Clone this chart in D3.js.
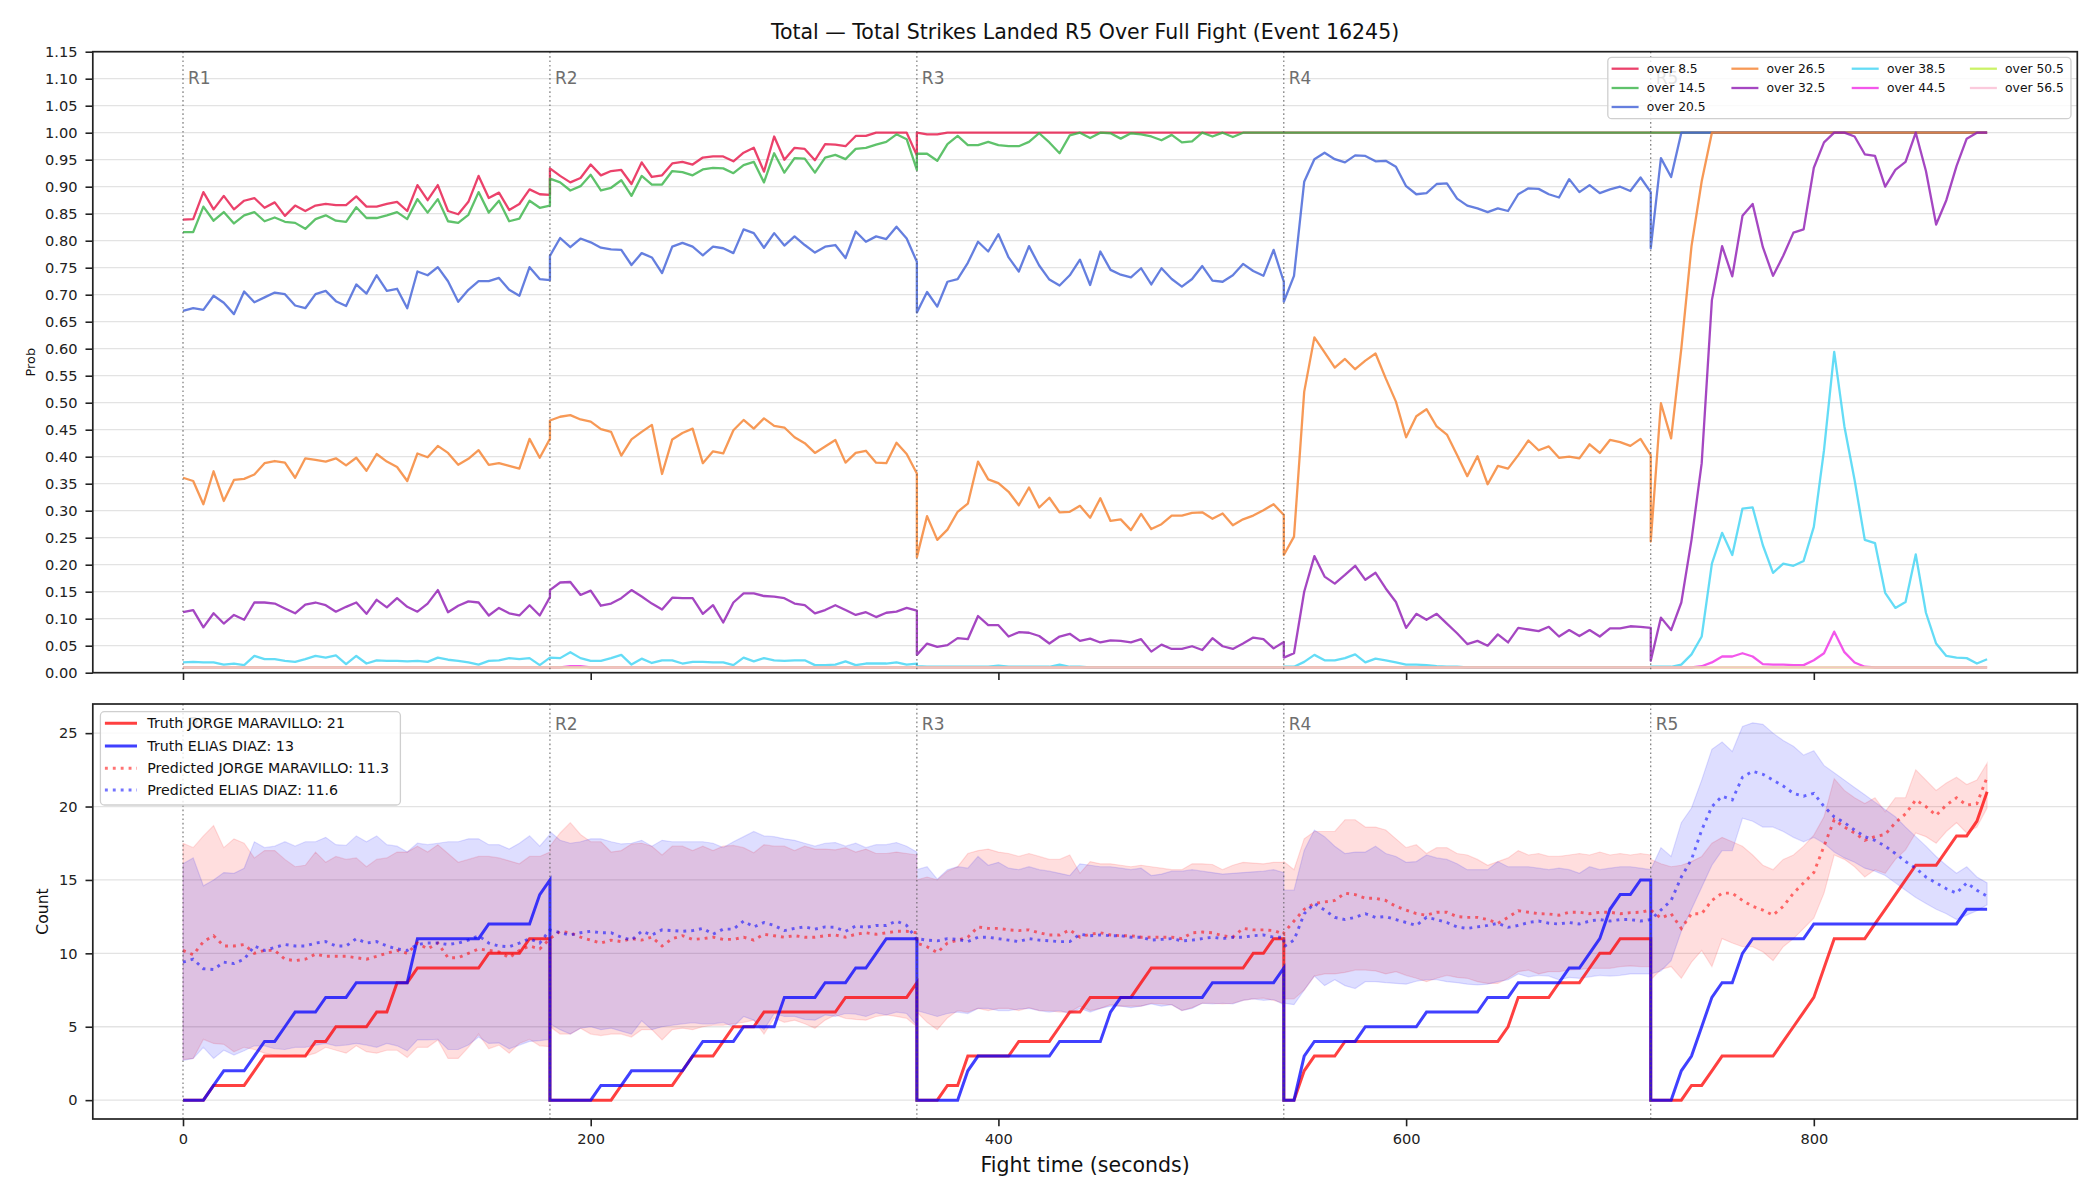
<!DOCTYPE html>
<html><head><meta charset="utf-8">
<script src="https://cdn.jsdelivr.net/npm/d3@7"></script>
<style>
body{margin:0;background:#fff;}
svg{display:block;font-family:"DejaVu Sans",sans-serif;}
</style></head><body>
<svg id="chart" width="2100" height="1200"></svg>
<script>
// ---------------- DATA ----------------
const titleText = "Total \u2014 Total Strikes Landed R5 Over Full Fight (Event 16245)";
const roundStarts = [0,180,360,540,720];
const roundLabels = ["R1","R2","R3","R4","R5"];
const stepSec = 5;
const xTicks = [0,200,400,600,800];
const probTicks = [0.00,0.05,0.10,0.15,0.20,0.25,0.30,0.35,0.40,0.45,0.50,0.55,0.60,0.65,0.70,0.75,0.80,0.85,0.90,0.95,1.00,1.05,1.10,1.15];
const countTicks = [0,5,10,15,20,25];
const thresholdLabels = ["over 8.5","over 14.5","over 20.5","over 26.5","over 32.5","over 38.5","over 44.5","over 50.5","over 56.5"];
const thresholdColors = ["#e6194B","#3cb44b","#4363d8","#f58231","#911eb4","#42d4f4","#f032e6","#bfef45","#fabed4"];

const over8_5 = [
[0.839,0.840,0.890,0.858,0.883,0.858,0.874,0.879,0.861,0.871,0.846,0.865,0.855,0.865,0.868,0.866,0.866,0.882,0.863,0.863,0.868,0.872,0.855,0.903,0.875,0.903,0.855,0.849,0.872,0.920,0.879,0.889,0.857,0.868,0.895,0.886,0.885],
[0.934,0.920,0.908,0.916,0.941,0.921,0.929,0.931,0.905,0.945,0.918,0.921,0.943,0.946,0.941,0.954,0.956,0.956,0.947,0.963,0.972,0.928,0.993,0.950,0.972,0.970,0.949,0.979,0.978,0.975,0.994,0.994,1,1,1,1,0.958],
[1,0.997,0.997,1,1,1,1,1,1,1,1,1,1,1,1,1,1,1,1,1,1,1,1,1,1,1,1,1,1,1,1,1,1,1,1,1,1],
[1,1,1,1,1,1,1,1,1,1,1,1,1,1,1,1,1,1,1,1,1,1,1,1,1,1,1,1,1,1,1,1,1,1,1,1,1],
[1,1,1,1,1,1,1,1,1,1,1,1,1,1,1,1,1,1,1,1,1,1,1,1,1,1,1,1,1,1,1,1,1,1]
];
const over14_5 = [
[0.816,0.816,0.863,0.837,0.853,0.832,0.847,0.853,0.836,0.843,0.835,0.833,0.822,0.840,0.847,0.837,0.835,0.862,0.842,0.842,0.847,0.853,0.840,0.877,0.852,0.877,0.836,0.833,0.848,0.890,0.852,0.874,0.836,0.841,0.874,0.861,0.865],
[0.915,0.908,0.893,0.901,0.922,0.893,0.898,0.912,0.883,0.920,0.904,0.904,0.929,0.927,0.921,0.932,0.935,0.934,0.925,0.940,0.946,0.908,0.962,0.926,0.953,0.952,0.926,0.954,0.959,0.951,0.970,0.972,0.978,0.983,0.997,0.988,0.931],
[0.961,0.961,0.948,0.979,0.994,0.977,0.977,0.983,0.977,0.975,0.975,0.983,0.999,0.982,0.962,0.995,1,0.990,1,0.999,0.989,0.999,0.997,0.993,0.986,0.996,0.982,0.984,1,0.993,1,0.992,1,1,1,1,1],
[1,1,1,1,1,1,1,1,1,1,1,1,1,1,1,1,1,1,1,1,1,1,1,1,1,1,1,1,1,1,1,1,1,1,1,1,1],
[1,1,1,1,1,1,1,1,1,1,1,1,1,1,1,1,1,1,1,1,1,1,1,1,1,1,1,1,1,1,1,1,1,1]
];
const over20_5 = [
[0.670,0.675,0.672,0.698,0.685,0.664,0.706,0.686,0.695,0.704,0.701,0.680,0.675,0.701,0.707,0.688,0.679,0.719,0.702,0.736,0.707,0.711,0.675,0.743,0.736,0.751,0.725,0.687,0.709,0.725,0.725,0.731,0.709,0.698,0.751,0.729,0.727],
[0.772,0.805,0.788,0.804,0.797,0.787,0.784,0.783,0.755,0.777,0.769,0.740,0.789,0.796,0.789,0.773,0.789,0.786,0.777,0.821,0.814,0.787,0.814,0.791,0.808,0.792,0.778,0.789,0.792,0.768,0.817,0.798,0.808,0.803,0.826,0.804,0.761],
[0.667,0.705,0.678,0.724,0.729,0.759,0.798,0.780,0.812,0.769,0.743,0.790,0.754,0.728,0.717,0.736,0.765,0.718,0.780,0.746,0.737,0.732,0.749,0.719,0.749,0.729,0.715,0.729,0.753,0.726,0.724,0.736,0.757,0.744,0.735,0.783,0.724],
[0.687,0.735,0.909,0.951,0.963,0.951,0.945,0.958,0.957,0.947,0.948,0.937,0.901,0.886,0.888,0.905,0.906,0.878,0.865,0.860,0.853,0.860,0.855,0.886,0.897,0.896,0.886,0.880,0.914,0.890,0.903,0.888,0.895,0.900,0.892,0.917,0.890],
[0.786,0.953,0.918,1,1,1,1,1,1,1,1,1,1,1,1,1,1,1,1,1,1,1,1,1,1,1,1,1,1,1,1,1,1,1]
];
const over26_5 = [
[0.361,0.355,0.312,0.373,0.318,0.357,0.359,0.367,0.388,0.392,0.389,0.361,0.397,0.394,0.391,0.397,0.384,0.398,0.374,0.405,0.391,0.381,0.355,0.406,0.399,0.420,0.407,0.385,0.396,0.412,0.385,0.388,0.383,0.378,0.433,0.398,0.433],
[0.467,0.474,0.477,0.469,0.465,0.451,0.446,0.402,0.432,0.446,0.459,0.368,0.432,0.444,0.452,0.388,0.410,0.406,0.449,0.468,0.452,0.471,0.457,0.454,0.436,0.425,0.407,0.419,0.431,0.389,0.407,0.411,0.389,0.388,0.426,0.405,0.369],
[0.214,0.290,0.246,0.265,0.298,0.313,0.391,0.358,0.351,0.335,0.310,0.343,0.306,0.324,0.297,0.298,0.309,0.287,0.323,0.281,0.284,0.264,0.294,0.266,0.275,0.291,0.291,0.296,0.297,0.285,0.295,0.273,0.284,0.291,0.301,0.312,0.292],
[0.218,0.252,0.520,0.621,0.593,0.565,0.581,0.562,0.578,0.591,0.545,0.502,0.436,0.475,0.488,0.456,0.441,0.403,0.364,0.401,0.349,0.383,0.378,0.403,0.430,0.412,0.419,0.398,0.400,0.397,0.423,0.407,0.431,0.427,0.420,0.433,0.403],
[0.243,0.499,0.434,0.600,0.790,0.910,1,1,1,1,1,1,1,1,1,1,1,1,1,1,1,1,1,1,1,1,1,1,1,1,1,1,1,1]
];
const over32_5 = [
[0.112,0.116,0.084,0.110,0.091,0.107,0.098,0.130,0.130,0.128,0.119,0.110,0.126,0.130,0.125,0.113,0.122,0.130,0.109,0.135,0.121,0.138,0.122,0.113,0.128,0.153,0.112,0.124,0.132,0.130,0.106,0.120,0.110,0.106,0.125,0.106,0.140],
[0.153,0.167,0.168,0.144,0.152,0.124,0.128,0.138,0.153,0.141,0.128,0.117,0.139,0.138,0.138,0.109,0.125,0.093,0.130,0.147,0.147,0.142,0.141,0.138,0.128,0.125,0.110,0.116,0.125,0.116,0.107,0.112,0.103,0.111,0.113,0.120,0.115],
[0.033,0.054,0.048,0.051,0.064,0.062,0.105,0.088,0.088,0.067,0.075,0.074,0.068,0.054,0.067,0.072,0.059,0.063,0.056,0.060,0.059,0.056,0.062,0.039,0.052,0.044,0.044,0.049,0.042,0.064,0.049,0.044,0.054,0.065,0.062,0.045,0.057],
[0.028,0.036,0.150,0.216,0.178,0.165,0.181,0.198,0.172,0.185,0.156,0.131,0.083,0.109,0.098,0.109,0.091,0.073,0.053,0.059,0.050,0.071,0.056,0.083,0.080,0.077,0.085,0.067,0.079,0.068,0.079,0.067,0.082,0.082,0.086,0.085,0.083],
[0.022,0.102,0.079,0.130,0.246,0.388,0.690,0.790,0.734,0.846,0.868,0.788,0.735,0.772,0.815,0.821,0.935,0.982,1,1,0.993,0.960,0.957,0.900,0.931,0.946,1,0.929,0.830,0.875,0.938,0.989,1,1]
];
const over38_5 = [
[0.019,0.020,0.019,0.019,0.015,0.017,0.014,0.031,0.025,0.025,0.022,0.020,0.025,0.031,0.028,0.032,0.016,0.031,0.017,0.023,0.022,0.022,0.021,0.022,0.020,0.028,0.024,0.022,0.019,0.015,0.022,0.023,0.027,0.025,0.027,0.014,0.028],
[0.028,0.027,0.038,0.027,0.022,0.022,0.027,0.033,0.015,0.026,0.018,0.023,0.023,0.017,0.020,0.020,0.019,0.019,0.014,0.028,0.021,0.027,0.023,0.022,0.023,0.023,0.014,0.014,0.015,0.021,0.014,0.017,0.017,0.017,0.019,0.015,0.017],
[0.012,0.011,0.011,0.011,0.011,0.011,0.011,0.011,0.013,0.011,0.011,0.011,0.011,0.011,0.015,0.011,0.011,0.010,0.010,0.010,0.010,0.010,0.010,0.010,0.010,0.010,0.010,0.010,0.010,0.010,0.010,0.010,0.010,0.010,0.010,0.010,0.010],
[0.011,0.011,0.020,0.033,0.023,0.023,0.027,0.034,0.019,0.026,0.023,0.019,0.015,0.015,0.014,0.012,0.011,0.011,0.010,0.010,0.010,0.010,0.010,0.010,0.010,0.010,0.010,0.010,0.010,0.010,0.010,0.010,0.010,0.010,0.010,0.010,0.010],
[0.011,0.011,0.011,0.015,0.034,0.067,0.202,0.259,0.218,0.304,0.306,0.236,0.185,0.202,0.198,0.207,0.270,0.412,0.594,0.456,0.357,0.246,0.240,0.148,0.120,0.131,0.219,0.111,0.054,0.031,0.028,0.027,0.017,0.025]
];
const over44_5 = [
[0.010,0.010,0.010,0.010,0.010,0.010,0.010,0.010,0.010,0.010,0.010,0.010,0.010,0.010,0.010,0.010,0.010,0.010,0.010,0.010,0.010,0.010,0.010,0.010,0.010,0.010,0.010,0.010,0.010,0.010,0.010,0.010,0.010,0.010,0.010,0.010,0.010],
[0.010,0.010,0.012,0.012,0.010,0.010,0.010,0.010,0.010,0.010,0.010,0.010,0.010,0.010,0.010,0.010,0.010,0.010,0.010,0.010,0.010,0.010,0.010,0.010,0.010,0.010,0.010,0.010,0.010,0.010,0.010,0.010,0.010,0.010,0.010,0.010,0.010],
[0.010,0.010,0.010,0.010,0.010,0.010,0.010,0.010,0.010,0.010,0.010,0.010,0.010,0.010,0.010,0.010,0.010,0.010,0.010,0.010,0.010,0.010,0.010,0.010,0.010,0.010,0.010,0.010,0.010,0.010,0.010,0.010,0.010,0.010,0.010,0.010,0.010],
[0.010,0.010,0.010,0.010,0.010,0.010,0.010,0.010,0.010,0.010,0.010,0.010,0.010,0.010,0.010,0.010,0.010,0.010,0.010,0.010,0.010,0.010,0.010,0.010,0.010,0.010,0.010,0.010,0.010,0.010,0.010,0.010,0.010,0.010,0.010,0.010,0.010],
[0.010,0.010,0.010,0.010,0.010,0.012,0.019,0.030,0.030,0.036,0.030,0.016,0.015,0.015,0.014,0.014,0.023,0.036,0.076,0.038,0.019,0.011,0.010,0.010,0.010,0.010,0.010,0.010,0.010,0.010,0.010,0.010,0.010,0.010]
];
const over50_5 = [
[0.010,0.010,0.010,0.010,0.010,0.010,0.010,0.010,0.010,0.010,0.010,0.010,0.010,0.010,0.010,0.010,0.010,0.010,0.010,0.010,0.010,0.010,0.010,0.010,0.010,0.010,0.010,0.010,0.010,0.010,0.010,0.010,0.010,0.010,0.010,0.010,0.010],
[0.010,0.010,0.010,0.010,0.010,0.010,0.010,0.010,0.010,0.010,0.010,0.010,0.010,0.010,0.010,0.010,0.010,0.010,0.010,0.010,0.010,0.010,0.010,0.010,0.010,0.010,0.010,0.010,0.010,0.010,0.010,0.010,0.010,0.010,0.010,0.010,0.010],
[0.010,0.010,0.010,0.010,0.010,0.010,0.010,0.010,0.010,0.010,0.010,0.010,0.010,0.010,0.010,0.010,0.010,0.010,0.010,0.010,0.010,0.010,0.010,0.010,0.010,0.010,0.010,0.010,0.010,0.010,0.010,0.010,0.010,0.010,0.010,0.010,0.010],
[0.010,0.010,0.010,0.010,0.010,0.010,0.010,0.010,0.010,0.010,0.010,0.010,0.010,0.010,0.010,0.010,0.010,0.010,0.010,0.010,0.010,0.010,0.010,0.010,0.010,0.010,0.010,0.010,0.010,0.010,0.010,0.010,0.010,0.010,0.010,0.010,0.010],
[0.010,0.010,0.010,0.010,0.010,0.010,0.010,0.010,0.010,0.010,0.010,0.010,0.010,0.010,0.010,0.010,0.010,0.010,0.010,0.010,0.010,0.010,0.010,0.010,0.010,0.010,0.010,0.010,0.010,0.010,0.010,0.010,0.010,0.010]
];
const over56_5 = [
[0.010,0.010,0.010,0.010,0.010,0.010,0.010,0.010,0.010,0.010,0.010,0.010,0.010,0.010,0.010,0.010,0.010,0.010,0.010,0.010,0.010,0.010,0.010,0.010,0.010,0.010,0.010,0.010,0.010,0.010,0.010,0.010,0.010,0.010,0.010,0.010,0.010],
[0.010,0.010,0.010,0.010,0.010,0.010,0.010,0.010,0.010,0.010,0.010,0.010,0.010,0.010,0.010,0.010,0.010,0.010,0.010,0.010,0.010,0.010,0.010,0.010,0.010,0.010,0.010,0.010,0.010,0.010,0.010,0.010,0.010,0.010,0.010,0.010,0.010],
[0.010,0.010,0.010,0.010,0.010,0.010,0.010,0.010,0.010,0.010,0.010,0.010,0.010,0.010,0.010,0.010,0.010,0.010,0.010,0.010,0.010,0.010,0.010,0.010,0.010,0.010,0.010,0.010,0.010,0.010,0.010,0.010,0.010,0.010,0.010,0.010,0.010],
[0.010,0.010,0.010,0.010,0.010,0.010,0.010,0.010,0.010,0.010,0.010,0.010,0.010,0.010,0.010,0.010,0.010,0.010,0.010,0.010,0.010,0.010,0.010,0.010,0.010,0.010,0.010,0.010,0.010,0.010,0.010,0.010,0.010,0.010,0.010,0.010,0.010],
[0.010,0.010,0.010,0.010,0.010,0.010,0.010,0.010,0.010,0.010,0.010,0.010,0.010,0.010,0.010,0.010,0.010,0.010,0.010,0.010,0.010,0.010,0.010,0.010,0.010,0.010,0.010,0.010,0.010,0.010,0.010,0.010,0.010,0.010]
];

// bottom panel
const fighterNames = ["JORGE MARAVILLO","ELIAS DIAZ"];
const truthFinal = [21,13];
const predictedLegend = [11.3,11.6];
const truthJorge = [
[0,0,0,1,1,1,1,2,3,3,3,3,3,4,4,5,5,5,5,6,6,8,8,9,9,9,9,9,9,9,10,10,10,10,11,11,11],
[0,0,0,0,0,0,0,1,1,1,1,1,1,2,3,3,3,4,5,5,5,6,6,6,6,6,6,6,6,7,7,7,7,7,7,7,8],
[0,0,0,1,1,3,3,3,3,3,4,4,4,4,5,6,6,7,7,7,7,7,8,9,9,9,9,9,9,9,9,9,9,10,10,11,11],
[0,0,2,3,3,3,4,4,4,4,4,4,4,4,4,4,4,4,4,4,4,4,5,7,7,7,7,8,8,8,9,10,10,11,11,11,11],
[0,0,0,0,1,1,2,3,3,3,3,3,3,4,5,6,7,9,11,11,11,11,12,13,14,15,16,16,16,17,18,18,19,21]
];
const truthElias = [
[0,0,0,1,2,2,2,3,4,4,5,6,6,6,7,7,7,8,8,8,8,8,8,11,11,11,11,11,11,11,12,12,12,12,12,14,15],
[0,0,0,0,0,1,1,1,2,2,2,2,2,2,3,4,4,4,4,5,5,5,5,7,7,7,7,8,8,8,9,9,10,11,11,11,11],
[0,0,0,0,0,2,3,3,3,3,3,3,3,3,4,4,4,4,4,6,7,7,7,7,7,7,7,7,7,8,8,8,8,8,8,8,9],
[0,0,3,4,4,4,4,4,5,5,5,5,5,5,6,6,6,6,6,6,7,7,7,8,8,8,8,8,9,9,10,11,13,14,14,15,15],
[0,0,0,2,3,5,7,8,8,10,11,11,11,11,11,11,12,12,12,12,12,12,12,12,12,12,12,12,12,12,12,13,13,13]
];
const predJorge = [
[10.2,9.9,10.8,11.2,10.5,10.5,10.6,10.0,10.2,10.2,9.6,9.5,9.6,9.95,9.8,9.8,9.8,9.7,9.6,9.8,10.0,10.2,10.0,10.7,10.3,10.7,9.7,9.7,10.0,10.3,10.2,10.1,9.7,10.2,10.5,10.3,11.0],
[11.0,11.5,11.4,11.1,10.9,10.7,10.9,10.8,11.0,10.9,11.1,10.5,11.0,11.2,10.95,11.0,11.1,10.95,10.95,11.1,10.9,11.3,11.2,11.1,11.2,11.1,11.1,11.2,11.25,11.1,11.3,11.4,11.3,11.4,11.5,11.5,11.4],
[10.7,10.45,10.05,10.7,10.9,11.1,11.8,11.7,11.7,11.6,11.55,11.6,11.4,11.25,11.25,11.6,11.1,11.3,11.4,11.25,11.2,11.2,11.1,11.1,11.1,11.1,11.0,11.4,11.45,11.4,11.2,11.1,11.7,11.6,11.6,11.55,11.3],
[11.4,12.2,13.0,13.4,13.5,13.6,14.1,14.0,13.75,13.75,13.6,13.2,12.95,12.7,12.6,12.8,12.8,12.5,12.45,12.45,12.3,12.05,12.45,12.9,12.8,12.7,12.68,12.6,12.8,12.8,12.7,12.8,12.8,12.7,12.77,12.8,12.95],
[12.95,12.4,12.7,11.7,12.7,12.7,13.6,14.1,14.1,13.6,13.2,12.95,12.6,13.2,14.1,14.8,15.5,17.3,19.1,18.6,18.2,17.7,17.95,18.1,18.9,19.5,20.45,20.0,19.4,20.1,20.6,20.1,20.2,22.0]
];
const predElias = [
[9.4,9.6,8.95,8.9,9.4,9.3,9.6,10.5,10.2,10.4,10.6,10.5,10.5,10.7,10.8,10.5,10.5,11.0,10.7,10.8,10.5,10.3,10.2,10.6,10.7,10.7,10.6,10.7,10.9,11.2,10.7,10.5,10.45,10.7,11.0,10.7,11.6],
[11.6,11.4,11.25,11.4,11.5,11.4,11.4,11.1,10.9,11.5,11.25,11.6,11.55,11.5,11.55,11.7,11.3,11.65,11.65,12.2,11.8,12.1,11.9,11.55,11.7,11.8,11.65,11.8,11.77,11.5,11.86,11.77,11.9,11.9,12.2,11.9,10.95],
[11.0,10.9,10.85,11.0,10.95,10.8,11.1,11.1,11.0,10.9,10.8,11.0,10.9,10.85,10.8,10.8,11.3,11.2,11.25,11.2,11.2,11.1,11.1,10.9,10.95,11.0,10.85,10.9,11.0,11.1,11.0,11.1,11.1,11.2,11.25,11.1,11.1],
[10.45,10.9,12.7,13.4,12.95,12.45,12.3,12.45,12.7,12.45,12.5,12.3,12.1,11.9,12.45,12.3,12.1,11.8,11.7,11.8,11.9,12.05,11.77,11.9,12.1,12.2,12.05,12.0,12.1,12.0,12.2,12.3,12.2,12.3,12.3,12.2,12.3],
[12.3,12.95,13.6,15.2,16.4,18.4,20.0,20.7,20.45,22.0,22.4,22.2,21.8,21.4,20.9,20.7,20.9,20.0,19.3,18.9,18.4,17.95,17.7,17.3,16.8,16.25,15.8,15.2,14.8,14.4,14.1,14.8,14.3,13.9]
];
const jorgeLow = [
[2.77,2.84,4.14,3.86,3.8,3.3,3.6,3.45,3.2,3.07,3.0,3.07,3.0,3.2,3.6,3.4,3.2,3.7,3.3,3.2,3.4,3.4,2.9,3.6,3.6,4.1,2.84,2.84,3.6,4.5,3.5,3.75,3.2,3.86,4.14,3.7,3.64],
[5.0,4.5,4.5,4.9,4.5,4.4,4.5,4.5,4.3,4.8,4.8,4.1,4.8,4.9,4.8,5.0,5.1,5.1,5.2,5.3,5.45,4.5,5.6,5.3,5.45,5.2,4.9,5.45,5.8,5.57,5.5,5.45,5.7,5.8,5.7,5.57,5.0],
[6.0,5.3,4.8,5.6,6.1,6.0,6.25,6.1,6.25,6.25,6.1,6.3,6.1,6.1,6.0,6.0,6.4,6.1,6.25,6.5,6.4,6.4,6.4,6.6,6.55,6.5,6.1,6.3,6.6,6.6,6.55,6.6,6.8,6.9,6.95,6.8,6.6],
[6.9,6.9,7.5,8.45,8.6,8.6,8.7,8.86,8.86,8.8,8.6,8.75,8.5,8.3,8.07,8.3,8.5,8.36,8.3,8.07,7.95,7.95,8.3,8.75,8.86,8.6,8.75,8.75,8.86,8.9,8.98,8.98,8.98,9.1,9.14,9.1,9.1],
[8.2,8.9,9.1,8.3,9.4,10.2,9.1,11.0,10.7,10.45,10.45,10.1,9.5,10.45,11.0,11.7,12.4,14.1,16.7,16.4,15.9,15.2,15.7,15.45,16.4,17.05,18.2,17.95,17.5,18.3,18.9,18.2,18.6,19.9]
];
const jorgeHigh = [
[17.5,17.2,18.0,18.7,17.2,17.8,17.5,16.5,17.0,17.0,16.4,15.9,16.0,16.9,16.2,16.6,16.4,16.5,15.9,16.4,16.5,16.9,16.9,17.3,16.9,17.4,16.8,16.2,16.4,16.6,16.6,16.5,16.3,16.1,16.6,16.6,16.9],
[17.3,18.2,18.9,18.1,17.6,17.6,16.9,17.0,17.45,17.5,17.3,16.7,17.3,17.3,17.0,17.3,17.0,17.3,17.35,17.2,16.85,17.4,17.3,17.3,17.0,17.3,17.1,17.1,17.05,17.2,16.9,17.1,16.8,16.8,16.9,16.8,16.7],
[15.0,15.2,15.0,15.6,15.9,16.8,17.0,17.1,16.9,16.8,16.6,16.8,16.6,16.4,16.4,16.7,15.45,16.25,16.1,16.1,16.0,15.9,16.0,15.9,15.8,15.7,15.7,16.1,16.1,16.05,15.7,16.0,16.2,16.15,16.1,16.2,16.2],
[16.25,15.7,17.8,18.3,18.3,18.3,19.1,19.1,18.6,18.6,18.4,17.8,17.2,17.4,16.8,17.2,17.2,16.8,16.7,16.4,16.0,16.25,16.5,17.0,16.7,16.8,16.6,16.6,16.7,16.8,16.7,16.9,16.7,16.8,16.7,16.8,16.7],
[16.4,16.1,15.9,16.0,16.25,16.6,17.5,17.9,17.6,17.3,16.7,16.0,15.7,16.4,16.7,17.3,18.05,19.3,21.9,21.1,20.6,20.2,20.6,19.65,20.6,20.6,22.5,21.8,21.1,21.6,22.0,21.5,21.8,22.95]
];
const eliasLow = [
[2.7,2.84,3.6,2.84,3.4,3.07,3.36,3.7,3.7,3.5,3.45,3.6,3.6,3.75,3.86,3.7,3.75,3.86,3.75,3.6,3.86,3.7,3.36,4.1,4.1,4.14,3.45,3.45,3.75,4.3,3.86,3.9,3.5,3.75,4.0,4.05,4.14],
[5.2,4.8,4.5,4.9,5.0,4.8,4.9,4.7,4.5,5.4,4.8,5.0,5.1,5.2,5.27,5.2,5.2,5.3,5.0,5.7,5.45,4.8,5.9,5.7,5.7,5.5,5.45,5.8,5.7,5.9,5.86,5.7,5.95,5.8,6.0,5.9,5.1],
[6.1,5.9,5.7,5.9,6.0,5.9,6.25,6.25,6.1,6.1,6.2,6.25,6.1,6.0,6.1,5.9,6.25,6.0,6.25,6.4,6.4,6.3,6.4,6.55,6.4,6.5,6.1,6.25,6.6,6.55,6.6,6.55,6.8,6.9,6.8,6.85,6.5],
[6.6,6.5,7.5,8.45,7.8,8.2,7.8,7.6,8.07,8.07,8.0,7.95,7.9,8.1,8.2,8.2,8.07,8.0,7.9,7.85,7.9,8.07,8.2,8.6,8.4,8.5,8.45,8.2,8.36,8.3,8.4,8.5,8.45,8.5,8.6,8.6,8.6],
[8.6,8.8,9.5,11.5,13.0,14.5,16.0,17.0,17.0,19.2,19.0,18.6,18.6,18.3,17.9,17.6,17.9,17.5,16.9,16.5,16.2,15.8,15.6,15.3,14.8,14.3,13.8,13.4,13.0,12.7,12.3,12.6,12.9,13.3]
];
const eliasHigh = [
[16.1,16.5,14.6,15.0,15.5,15.45,15.8,17.6,17.2,17.3,17.6,17.3,17.6,17.6,17.9,17.4,17.35,18.0,17.6,18.0,17.4,17.3,16.9,17.5,17.4,17.5,17.6,17.6,17.8,17.8,17.4,17.4,17.1,17.5,18.0,17.3,18.1],
[18.3,17.7,17.5,17.6,17.8,17.8,17.6,17.45,17.5,17.7,17.3,17.7,17.6,17.6,17.6,17.6,17.5,17.2,17.6,17.95,18.3,18.0,17.95,17.8,17.7,17.5,17.3,17.5,17.55,17.3,17.5,17.2,17.4,17.4,17.55,17.3,16.9],
[15.7,15.9,15.05,15.7,15.9,15.8,16.6,16.0,16.2,15.8,15.7,15.9,15.7,15.6,15.45,15.3,16.1,16.0,15.9,15.9,15.8,15.7,15.8,15.3,15.4,15.6,15.6,15.7,15.6,15.5,15.4,15.45,15.5,15.55,15.6,15.7,15.5],
[14.3,14.3,17.0,18.4,17.95,17.3,16.8,16.9,16.9,17.3,16.8,16.6,16.2,16.25,16.7,16.5,16.4,16.1,15.7,15.7,15.7,16.25,15.9,15.9,15.9,15.8,15.7,15.8,15.7,15.45,15.9,15.7,15.8,15.9,15.9,15.8,15.7],
[15.7,17.2,16.6,18.9,19.9,21.8,23.9,24.4,23.75,25.45,25.7,25.6,25.0,24.5,24.1,23.5,23.8,22.8,22.3,21.8,21.3,20.8,20.3,19.8,19.3,18.6,17.95,17.3,16.6,16.0,15.45,15.9,15.2,14.8]
];

// ---------------- HELPERS ----------------
const errors = [];
const expectLen = [37,37,37,37,34];
function toPoints(name, rounds){
  const pts = [];
  rounds.forEach((vals,r)=>{
    if (vals.length !== expectLen[r]) errors.push(name+" R"+(r+1)+" len "+vals.length);
    vals.forEach((v,i)=>pts.push({t: roundStarts[r] + stepSec*i, v}));
  });
  return pts;
}

const probSeries = [over8_5,over14_5,over20_5,over26_5,over32_5,over38_5,over44_5,over50_5,over56_5]
  .map((rounds,i)=>({label: thresholdLabels[i], color: thresholdColors[i], pts: toPoints(thresholdLabels[i], rounds)}));

const tJ = toPoints("truthJ", truthJorge), tE = toPoints("truthE", truthElias);
const pJ = toPoints("predJ", predJorge), pE = toPoints("predE", predElias);
const lJ = toPoints("lowJ", jorgeLow), hJ = toPoints("highJ", jorgeHigh);
const lE = toPoints("lowE", eliasLow), hE = toPoints("highE", eliasHigh);
const bandJ = lJ.map((d,i)=>({t:d.t, lo:d.v, hi:hJ[i].v}));
const bandE = lE.map((d,i)=>({t:d.t, lo:d.v, hi:hE[i].v}));

// ---------------- LAYOUT ----------------
const svg = d3.select("#chart");
const FONT = "DejaVu Sans, sans-serif";
const X0 = 92.8, X1 = 2077.3;
const topY0 = 51.7, topY1 = 672.7;
const botY0 = 704, botY1 = 1119;

const tMax = d3.max(tJ, d=>d.t), tMin = 0;
const xPad = 0.05*(tMax - tMin);
const x = d3.scaleLinear().domain([tMin - xPad, tMax + xPad]).range([X0, X1]);
const yP = d3.scaleLinear().domain([0, 1.15]).range([topY1, topY0]);

const allBottom = [].concat(tJ.map(d=>d.v), tE.map(d=>d.v), pJ.map(d=>d.v), pE.map(d=>d.v), lJ.map(d=>d.v), hJ.map(d=>d.v), lE.map(d=>d.v), hE.map(d=>d.v));
const bMin = d3.min(allBottom), bMax = d3.max(allBottom);
const bPad = 0.05*(bMax - bMin);
const yC = d3.scaleLinear().domain([bMin - bPad, bMax + bPad]).range([botY1, botY0]);

// title
svg.append("text").attr("x", (X0+X1)/2).attr("y", 38.5).attr("text-anchor","middle")
  .attr("font-size", 20.5).attr("fill","#111").attr("font-family",FONT).text(titleText);

function gridAndAxes(yScale, ticks, yTop, yBot, fmt, showXLabels){
  const g = svg.append("g");
  g.selectAll("line.grid").data(ticks).join("line")
    .attr("x1", X0).attr("x2", X1).attr("y1", d=>yScale(d)).attr("y2", d=>yScale(d))
    .attr("stroke", "#e3e3e3").attr("stroke-width", 1.3);
  return g;
}

function drawAxes(yScale, ticks, yTop, yBot, fmt, showXLabels){
  const ax = svg.append("g").attr("transform", `translate(${X0},0)`)
    .call(d3.axisLeft(yScale).tickValues(ticks).tickSize(7.3).tickPadding(8).tickFormat(fmt).tickSizeOuter(0));
  ax.select(".domain").remove();
  ax.selectAll("line").attr("stroke","#222").attr("stroke-width",1.6);
  ax.selectAll("text").attr("font-size",14.6).attr("font-family",FONT).attr("fill","#222");
  const bx = svg.append("g").attr("transform", `translate(0,${yBot})`)
    .call(d3.axisBottom(x).tickValues(xTicks).tickSize(7.3).tickPadding(7.5).tickFormat(showXLabels ? d3.format("d") : "").tickSizeOuter(0));
  bx.select(".domain").remove();
  bx.selectAll("line").attr("stroke","#222").attr("stroke-width",1.6);
  bx.selectAll("text").attr("font-size",14.6).attr("font-family",FONT).attr("fill","#222");
  svg.append("rect").attr("x",X0).attr("y",yTop).attr("width",X1-X0).attr("height",yBot-yTop)
    .attr("fill","none").attr("stroke","#222").attr("stroke-width",1.7);
}

function roundMarks(yTop, yBot){
  const g = svg.append("g");
  g.selectAll("line").data(roundStarts).join("line")
    .attr("x1", d=>x(d)).attr("x2", d=>x(d)).attr("y1", yTop).attr("y2", yBot)
    .attr("stroke","#555").attr("stroke-width",1.1).attr("stroke-dasharray","1.6,2.8").attr("opacity",0.85);
  g.selectAll("text").data(roundStarts).join("text")
    .attr("x", d=>x(d)+5).attr("y", yTop + 0.03*(yBot-yTop)).attr("dy","0.78em")
    .attr("font-size",17).attr("font-family",FONT).attr("fill","#6e6e6e")
    .text((d,i)=>roundLabels[i]);
}

// ---------------- TOP PANEL ----------------
gridAndAxes(yP, probTicks, topY0, topY1);
const lineP = d3.line().x(d=>x(d.t)).y(d=>yP(d.v));
svg.append("g").selectAll("path").data(probSeries).join("path")
  .attr("d", d=>lineP(d.pts)).attr("fill","none").attr("stroke", d=>d.color)
  .attr("stroke-width",2.3).attr("stroke-opacity",0.82).attr("stroke-linejoin","round");
roundMarks(topY0, topY1);
drawAxes(yP, probTicks, topY0, topY1, d3.format(".2f"), false);
svg.append("text").attr("transform",`translate(34.5,${(topY0+topY1)/2}) rotate(-90)`)
  .attr("text-anchor","middle").attr("font-size",12.8).attr("font-family",FONT).attr("fill","#111").text("Prob");

// top legend
const tl = svg.append("g");
tl.append("rect").attr("x",1607.8).attr("y",57.3).attr("width",463.2).attr("height",61.4).attr("rx",4)
  .attr("fill","#fff").attr("fill-opacity",0.8).attr("stroke","#cfcfcf").attr("stroke-width",1.3);
const colX = [1611.6,1731.4,1851.7,1969.9];
const rowY = [68.7,88,107];
const colOf = [0,0,0,1,1,2,2,3,3], rowOf = [0,1,2,0,1,0,1,0,1];
probSeries.forEach((s,i)=>{
  const cx = colX[colOf[i]], cy = rowY[rowOf[i]];
  tl.append("line").attr("x1",cx).attr("x2",cx+27).attr("y1",cy).attr("y2",cy)
    .attr("stroke",s.color).attr("stroke-width",2.3).attr("stroke-opacity",0.82);
  tl.append("text").attr("x",cx+35.2).attr("y",cy).attr("dy","0.36em").attr("font-size",12.3)
    .attr("font-family",FONT).attr("fill","#111").text(s.label);
});

// ---------------- BOTTOM PANEL ----------------
gridAndAxes(yC, countTicks, botY0, botY1);
const area = d3.area().x(d=>x(d.t)).y0(d=>yC(d.lo)).y1(d=>yC(d.hi));
svg.append("path").attr("d", area(bandJ)).attr("fill","#ff0000").attr("fill-opacity",0.13)
  .attr("stroke","#ff0000").attr("stroke-opacity",0.12).attr("stroke-width",1.2);
svg.append("path").attr("d", area(bandE)).attr("fill","#0000ff").attr("fill-opacity",0.13)
  .attr("stroke","#0000ff").attr("stroke-opacity",0.12).attr("stroke-width",1.2);
const lineC = d3.line().x(d=>x(d.t)).y(d=>yC(d.v));
svg.append("path").attr("d", lineC(tJ)).attr("fill","none").attr("stroke","#ff0000").attr("stroke-opacity",0.75).attr("stroke-width",3);
svg.append("path").attr("d", lineC(tE)).attr("fill","none").attr("stroke","#0000ff").attr("stroke-opacity",0.75).attr("stroke-width",3);
svg.append("path").attr("d", lineC(pJ)).attr("fill","none").attr("stroke","#ff0000").attr("stroke-opacity",0.55).attr("stroke-width",2.9).attr("stroke-dasharray","2.9,5");
svg.append("path").attr("d", lineC(pE)).attr("fill","none").attr("stroke","#0000ff").attr("stroke-opacity",0.55).attr("stroke-width",2.9).attr("stroke-dasharray","2.9,5");
roundMarks(botY0, botY1);
drawAxes(yC, countTicks, botY0, botY1, d3.format("d"), true);
svg.append("text").attr("transform",`translate(47.5,${(botY0+botY1)/2}) rotate(-90)`)
  .attr("text-anchor","middle").attr("font-size",15.6).attr("font-family",FONT).attr("fill","#111").text("Count");
svg.append("text").attr("x",(X0+X1)/2).attr("y",1172).attr("text-anchor","middle")
  .attr("font-size",20.5).attr("font-family",FONT).attr("fill","#111").text("Fight time (seconds)");

// bottom legend
const bl = svg.append("g");
bl.append("rect").attr("x",100.4).attr("y",711.7).attr("width",300).attr("height",93.3).attr("rx",4)
  .attr("fill","#fff").attr("fill-opacity",0.8).attr("stroke","#cfcfcf").attr("stroke-width",1.3);
const legItems = [
  {label:`Truth ${fighterNames[0]}: ${truthFinal[0]}`, color:"#ff0000", op:0.75, dash:null},
  {label:`Truth ${fighterNames[1]}: ${truthFinal[1]}`, color:"#0000ff", op:0.75, dash:null},
  {label:`Predicted ${fighterNames[0]}: ${predictedLegend[0]}`, color:"#ff0000", op:0.55, dash:"2.9,5"},
  {label:`Predicted ${fighterNames[1]}: ${predictedLegend[1]}`, color:"#0000ff", op:0.55, dash:"2.9,5"}
];
const bRowY = [723.3,746,768.3,790];
legItems.forEach((it,i)=>{
  const ln = bl.append("line").attr("x1",104.9).attr("x2",137).attr("y1",bRowY[i]).attr("y2",bRowY[i])
    .attr("stroke",it.color).attr("stroke-opacity",it.op).attr("stroke-width",3);
  if (it.dash) ln.attr("stroke-dasharray",it.dash);
  bl.append("text").attr("x",147.3).attr("y",bRowY[i]).attr("dy","0.36em").attr("font-size",14.2)
    .attr("font-family",FONT).attr("fill","#111").text(it.label);
});

if (errors.length) svg.append("text").attr("x",300).attr("y",300).attr("fill","red").attr("font-size",30).text(errors.join(" | "));
</script>
</body></html>
